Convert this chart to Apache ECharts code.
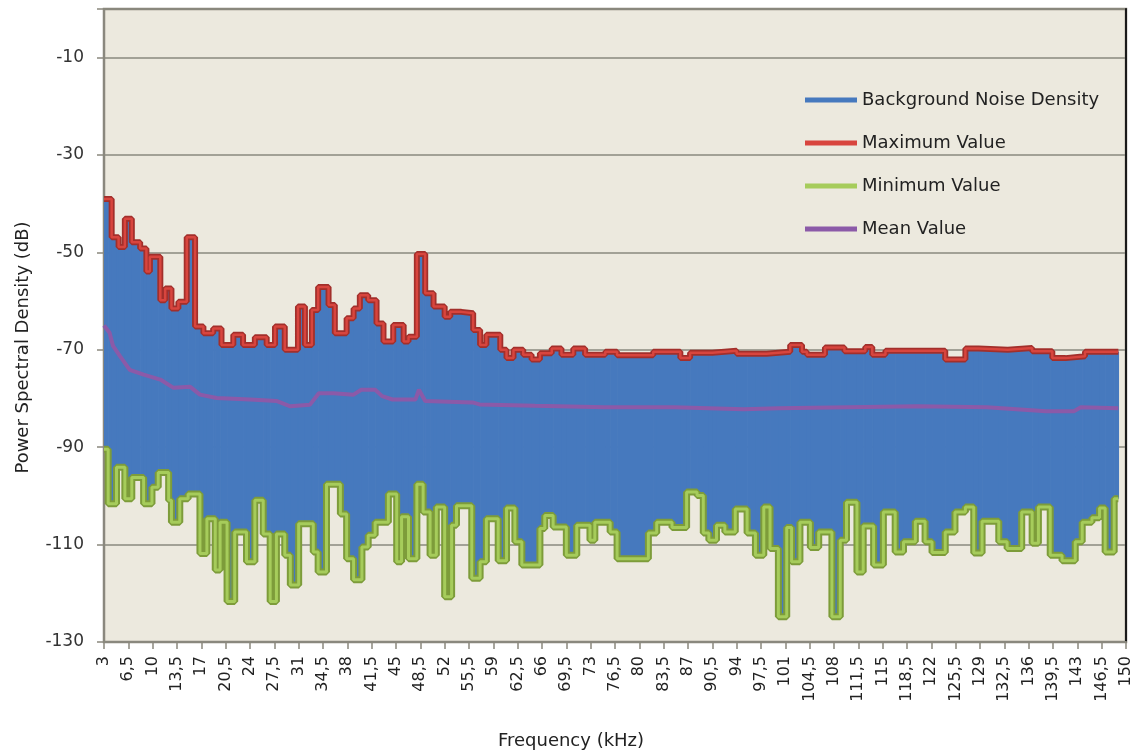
<!DOCTYPE html>
<html><head><meta charset="utf-8">
<script src="https://cdn.jsdelivr.net/npm/echarts@6/dist/echarts.min.js"></script>
<style>html,body{margin:0;padding:0;background:#fff}#chart{width:1143px;height:755px}</style>
</head><body><div id="chart"></div>
<script>
const FONT = 'DejaVu Sans';

// Maximum value (step starts in kHz, values in dB)
const maxFreq = [3.0,4.1,5.1,6.0,7.0,8.2,9.1,9.6,11.1,11.8,
  12.7,13.7,14.9,16.1,17.3,18.7,19.9,21.6,23.0,24.7,
  26.4,27.6,29.0,30.9,31.9,32.9,33.8,35.3,36.2,37.9,
  38.9,39.8,41.0,42.2,43.2,44.6,46.1,46.8,48.0,49.2,
  50.4,52.0,52.8,54.4,56.1,57.1,58.0,60.0,60.9,61.9,
  63.3,64.5,65.7,67.4,68.8,70.5,72.2,75.1,76.8,82.0,
  85.9,87.3,90.5,94.0,98.3,101.7,103.4,104.1,106.7,109.5,
  112.5,113.5,115.4,124.0,126.9,128.8,133.0,136.5,139.4,141.3,
  144.1];
const maxVal = [-39.0,-46.9,-48.9,-43.1,-47.9,-49.2,-53.9,-50.9,-59.8,-57.4,
  -61.5,-60.1,-46.9,-65.2,-66.6,-65.6,-69.0,-66.9,-69.0,-67.4,
  -69.0,-65.2,-70.0,-61.1,-69.0,-61.8,-57.1,-60.8,-66.6,-63.5,
  -61.5,-58.8,-59.8,-64.6,-68.3,-64.9,-68.3,-67.3,-50.3,-58.4,
  -61.1,-63.2,-62.2,-62.5,-65.9,-69.0,-66.9,-70.0,-71.7,-70.0,
  -71.0,-72.0,-70.7,-69.7,-71.0,-69.7,-71.0,-70.4,-71.1,-70.4,
  -71.7,-70.6,-70.2,-70.8,-70.4,-69.0,-70.4,-71.0,-69.5,-70.3,
  -69.4,-71.0,-70.2,-72.0,-69.7,-70.0,-69.6,-70.3,-71.7,-71.3,
  -70.4];

// Minimum value
const minFreq = [3.0,3.6,4.8,6.0,7.0,8.7,9.9,10.8,12.3,12.7,
  13.9,15.1,16.8,17.8,19.0,19.7,20.7,21.8,23.5,24.7,
  25.9,26.9,27.8,29.0,29.8,31.0,33.1,33.8,35.0,37.0,
  37.9,38.9,40.1,41.0,42.0,43.9,45.1,45.8,46.8,48.0,
  48.9,49.9,50.8,52.0,53.0,53.7,55.9,57.1,58.0,59.7,
  60.9,62.1,63.1,65.7,66.4,67.6,69.5,71.0,72.9,73.6,
  75.8,76.8,81.3,82.5,84.7,86.8,88.3,89.2,90.0,91.1,
  92.3,93.8,95.5,96.7,97.9,98.8,100.0,101.2,101.9,103.1,
  104.6,105.8,107.7,108.9,109.8,111.3,112.2,113.7,115.1,116.8,
  118.0,119.7,121.1,122.1,124.0,125.4,126.9,128.1,129.3,131.7,
  132.9,135.0,136.5,137.4,139.1,140.8,142.7,143.7,145.1,146.2,
  147.0,148.3];
const minVal = [-90.4,-101.6,-94.1,-100.6,-96.2,-101.6,-98.2,-95.2,-100.9,-105.4,
  -100.6,-99.6,-111.8,-104.7,-115.2,-105.4,-121.7,-107.4,-113.5,-100.9,
  -107.8,-121.7,-107.8,-112.2,-118.3,-105.7,-111.5,-115.6,-97.6,-103.7,
  -112.9,-117.2,-110.5,-108.1,-105.4,-99.6,-113.5,-104.3,-112.9,-97.6,
  -103.3,-112.2,-102.3,-120.7,-106.0,-102.0,-116.9,-113.5,-104.7,-113.3,
  -102.5,-109.4,-114.2,-106.7,-104.0,-106.4,-112.2,-106.0,-109.1,-105.4,
  -107.4,-112.9,-107.6,-105.4,-106.5,-99.2,-99.9,-107.6,-109.1,-106.0,
  -107.4,-102.7,-107.6,-112.2,-102.3,-110.8,-124.8,-106.5,-113.5,-105.4,
  -110.6,-107.4,-124.8,-109.1,-101.3,-115.6,-106.2,-114.2,-103.3,-111.5,
  -109.4,-105.2,-109.4,-111.6,-107.4,-103.3,-102.3,-111.7,-105.2,-109.4,
  -110.8,-103.3,-109.7,-102.3,-112.2,-113.3,-109.4,-105.4,-104.5,-102.5,
  -111.5,-100.6];

// Mean value
const meanFreq = [3.0,3.8,4.3,5.3,6.7,8.7,11.1,13.0,15.4,16.8,
  19.2,24.0,27.8,29.8,32.6,33.9,36.0,38.9,40.0,42.0,
  43.0,44.5,47.8,48.3,49.2,56.0,57.0,65.0,75.0,85.0,
  95.0,100.0,110.0,120.0,130.0,138.5,142.5,143.5,148.9];
const meanVal = [-65.0,-66.5,-69.2,-71.3,-74.1,-75.1,-76.1,-77.8,-77.6,-79.2,
  -79.9,-80.2,-80.5,-81.6,-81.3,-78.9,-78.9,-79.2,-78.2,-78.2,
  -79.5,-80.2,-80.2,-78.2,-80.5,-80.8,-81.2,-81.5,-81.8,-81.8,
  -82.2,-82.0,-81.8,-81.6,-81.8,-82.6,-82.6,-81.8,-82.0];

const endFreq = 148.9;
const seriesNames = ['Background Noise Density','Maximum Value','Minimum Value','Mean Value'];

function stepAt(fs, vs, x) {
  let v = vs[0];
  for (let i = 0; i < fs.length; i++) { if (fs[i] <= x + 1e-9) v = vs[i]; else break; }
  return v;
}
function stepPairs(fs, vs) {
  const d = fs.map((f, i) => [f, vs[i]]);
  d.push([endFreq, vs[vs.length - 1]]);
  return d;
}
const xs = Array.from(new Set([...maxFreq, ...minFreq, endFreq])).sort((a, b) => a - b);
const bandData = [];
for (let i = 0; i < xs.length - 1; i++) {
  bandData.push([xs[i], xs[i + 1], stepAt(minFreq, minVal, xs[i]), stepAt(maxFreq, maxVal, xs[i])]);
}
const maxData = stepPairs(maxFreq, maxVal);
const minData = stepPairs(minFreq, minVal);
const meanData = meanFreq.map((f, i) => [f, meanVal[i]]);

const chart = echarts.init(document.getElementById('chart'), null, { renderer: 'canvas' });
chart.setOption({
  animation: false,
  backgroundColor: '#ffffff',
  textStyle: { fontFamily: FONT },
  grid: { left: 104, right: 17, top: 9, bottom: 113, show: true, backgroundColor: '#ECE9DE', borderColor: '#8a887e', borderWidth: 2.5 },
  legend: {
    data: seriesNames, orient: 'vertical', left: 805, top: 91, padding: 0,
    itemWidth: 52, itemHeight: 5, itemGap: 25, icon: 'rect',
    textStyle: { fontFamily: FONT, fontSize: 18, color: '#222' }
  },
  xAxis: {
    type: 'value', min: 3, max: 150, interval: 3.5,
    name: 'Frequency (kHz)', nameLocation: 'middle', nameGap: 90,
    nameTextStyle: { fontFamily: FONT, fontSize: 18, color: '#222', padding: [0, 88, 0, 0] },
    axisLine: { show: true, onZero: false, lineStyle: { color: '#8a887e', width: 2 } },
    axisTick: { show: true, length: 7, lineStyle: { color: '#8a887e', width: 1.5 } },
    axisLabel: { rotate: 90, margin: 14, fontSize: 16, color: '#222', fontFamily: FONT,
      formatter: v => String(v).replace('.', ',') },
    splitLine: { show: false }
  },
  yAxis: [{
    type: 'value', min: -130, max: 0, interval: 20,
    name: 'Power Spectral Density (dB)', nameLocation: 'middle', nameGap: 72, nameRotate: 90,
    nameTextStyle: { fontFamily: FONT, fontSize: 18, color: '#222', padding: [0, 44, 0, 0] },
    axisLine: { show: true, onZero: false, lineStyle: { color: '#8a887e', width: 2 } },
    axisTick: { show: true, length: 7, lineStyle: { color: '#8a887e', width: 1.5 } },
    axisLabel: { margin: 20, fontSize: 17, color: '#333', fontFamily: FONT,
      formatter: v => (v === 0 ? '' : String(v)) },
    splitLine: { show: true, lineStyle: { color: '#8a887e', width: 1.6 } }
  }, {
    type: 'value', min: -130, max: 0, position: 'right',
    axisLine: { show: true, onZero: false, lineStyle: { color: '#1a1a1a', width: 2 } },
    axisTick: { show: false }, axisLabel: { show: false }, splitLine: { show: false }
  }],
  series: [
    {
      name: seriesNames[0], type: 'custom', clip: true, z: 2,
      itemStyle: { color: '#4679BE' },
      encode: { x: [0, 1], y: [2, 3] },
      data: bandData,
      renderItem: (params, api) => {
        const p0 = api.coord([api.value(0), api.value(3)]);
        const p1 = api.coord([api.value(1), api.value(2)]);
        return { type: 'rect', shape: { x: p0[0], y: p0[1], width: p1[0] - p0[0] + 0.7, height: p1[1] - p0[1] },
          style: { fill: '#4679BE' } };
      }
    },
    {
      name: seriesNames[3], type: 'line', z: 3, symbol: 'none', data: meanData,
      itemStyle: { color: '#8B5AA8' }, lineStyle: { color: '#8B5AA8', width: 4 }
    },
    {
      name: 'min-edge', type: 'line', z: 4, symbol: 'none', step: 'end', data: minData,
      itemStyle: { color: '#7D9C3A' }, lineStyle: { color: '#7D9C3A', width: 7 }
    },
    {
      name: seriesNames[2], type: 'line', z: 5, symbol: 'none', step: 'end', data: minData,
      itemStyle: { color: '#A6CC5B' }, lineStyle: { color: '#A6CC5B', width: 3 }
    },
    {
      name: 'max-edge', type: 'line', z: 6, symbol: 'none', step: 'end', data: maxData,
      itemStyle: { color: '#A22F2B' }, lineStyle: { color: '#A22F2B', width: 6 }
    },
    {
      name: seriesNames[1], type: 'line', z: 7, symbol: 'none', step: 'end', data: maxData,
      itemStyle: { color: '#D8453E' }, lineStyle: { color: '#D8453E', width: 2.5 }
    }
  ]
});
</script></body></html>
